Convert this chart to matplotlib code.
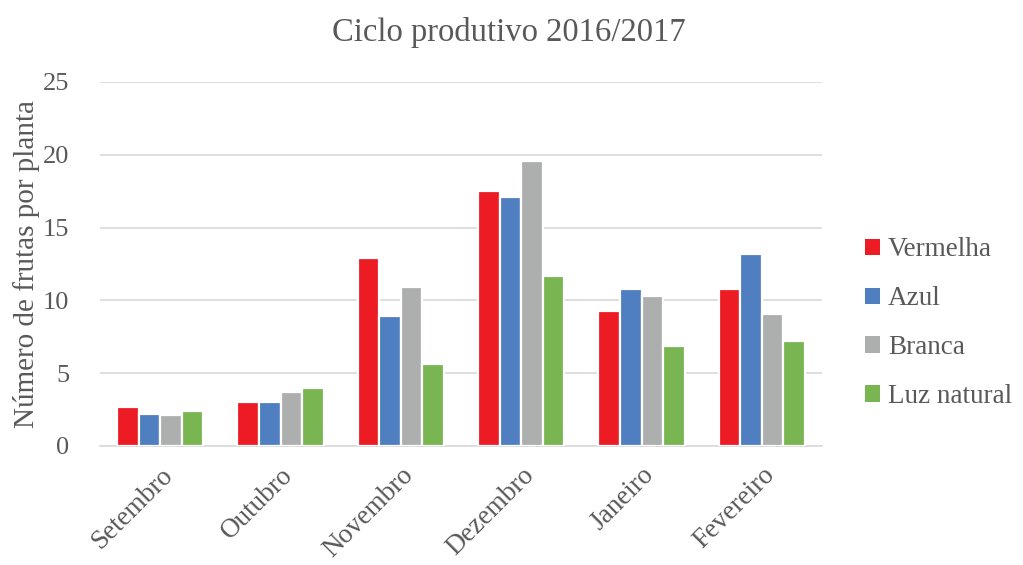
import matplotlib
matplotlib.use("Agg")
import matplotlib.pyplot as plt
import numpy as np
from matplotlib.patches import Patch

MONTHS = ["Setembro", "Outubro", "Novembro", "Dezembro", "Janeiro", "Fevereiro"]
SERIES = ["Vermelha", "Azul", "Branca", "Luz natural"]
vermelha = [2.7, 3.0, 12.9, 17.5, 9.3, 10.8]
azul = [2.2, 3.0, 8.9, 17.1, 10.8, 13.2]
branca = [2.1, 3.7, 10.9, 19.6, 10.3, 9.1]
luz_natural = [2.4, 4.0, 5.6, 11.7, 6.9, 7.2]
COLORS = ["#ED1C24", "#4F7EC1", "#ADAFAE", "#79B551"]

TXT = "#595959"
plt.rcParams["font.family"] = ["Liberation Serif", "DejaVu Serif"]

fig = plt.figure(figsize=(10.23, 5.65), dpi=100)
ax = fig.add_axes([100 / 1023, 1 - 446 / 565, 722 / 1023, 364 / 565])

# four bars per month, white edges leave the small gaps between them
x = np.arange(len(MONTHS))
slot = 0.18
for i, (vals, col) in enumerate(zip([vermelha, azul, branca, luz_natural], COLORS)):
    ax.bar(x + (i - 1.5) * slot, vals, width=slot, color=col,
           edgecolor="white", linewidth=1.6, zorder=3)

ax.set_xlim(-0.5, len(MONTHS) - 0.5)
ax.set_ylim(0, 25)
ax.set_yticks(range(0, 26, 5))
ax.yaxis.grid(True, color="#D9D9D9", linewidth=1.2, zorder=0)
ax.set_axisbelow(True)
for s in ["top", "right", "left"]:
    ax.spines[s].set_visible(False)
ax.spines["bottom"].set_color("#D9D9D9")
ax.spines["bottom"].set_linewidth(1.2)
ax.tick_params(axis="both", length=0, labelsize=19, colors=TXT)
ax.tick_params(axis="y", pad=22)
ax.set_xticks(x)
ax.set_xticklabels(MONTHS, rotation=45, ha="right", rotation_mode="anchor",
                   fontsize=19.5, color=TXT)
ax.tick_params(axis="x", pad=12)
ax.set_ylabel("Número de frutas por planta", fontsize=21, color=TXT, labelpad=2)

fig.text(0.497, 0.943, "Ciclo produtivo 2016/2017", fontsize=23.5, color=TXT,
         ha="center", va="center")

handles = [Patch(facecolor=c, edgecolor="none") for c in COLORS]
leg = fig.legend(handles, SERIES, loc="center left", bbox_to_anchor=(865 / 1023, 0.428),
                 frameon=False, fontsize=19.5, handlelength=0.55, handleheight=0.55,
                 handletextpad=0.3, labelspacing=0.88, borderpad=0, borderaxespad=0)
for t in leg.get_texts():
    t.set_color(TXT)

fig.savefig("out.png", dpi=100)
